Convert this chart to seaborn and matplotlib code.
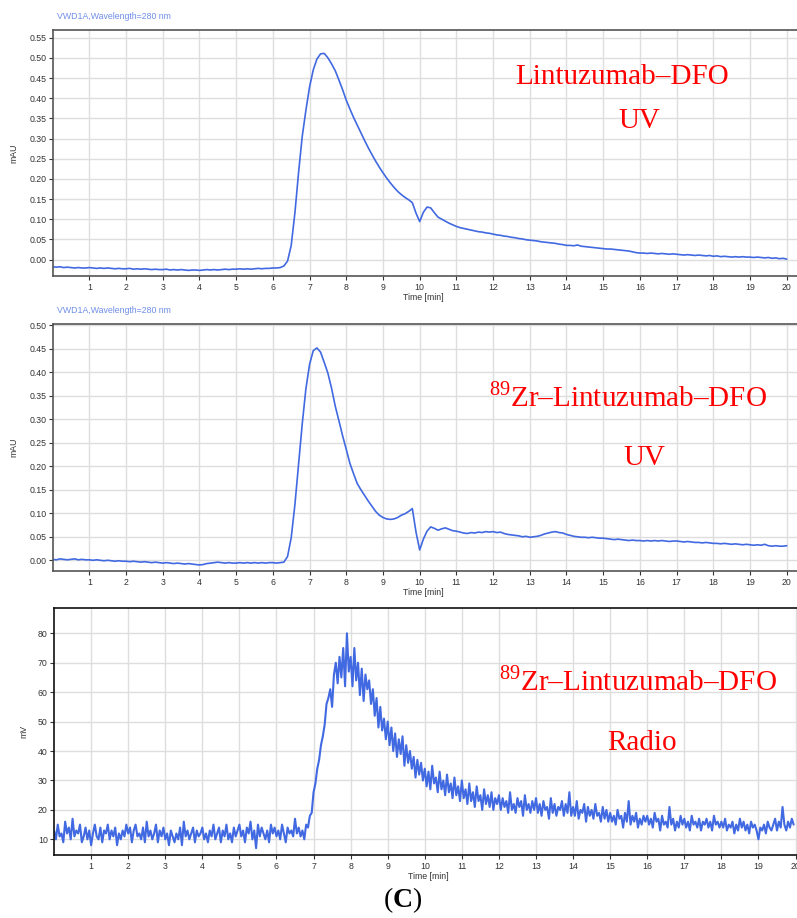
import numpy as np
import pandas as pd
import matplotlib
matplotlib.use('Agg')
import matplotlib.pyplot as plt
import seaborn as sns

# UV trace, Lintuzumab-DFO (mAU), one value every 0.1 min from 0.0 to 20.0
uv1_mau = [
    -0.018, -0.019, -0.018, -0.020, -0.019, -0.020, -0.021, -0.020, -0.021, -0.021,
    -0.020, -0.021, -0.022, -0.021, -0.022, -0.021, -0.022, -0.023, -0.022, -0.023,
    -0.023, -0.022, -0.024, -0.023, -0.024, -0.023, -0.024, -0.025, -0.024, -0.025,
    -0.025, -0.024, -0.026, -0.025, -0.026, -0.025, -0.026, -0.027, -0.026, -0.026,
    -0.027, -0.026, -0.025, -0.026, -0.025, -0.026, -0.025, -0.024, -0.025, -0.024,
    -0.024, -0.023, -0.024, -0.023, -0.024, -0.023, -0.022, -0.023, -0.022, -0.022,
    -0.021, -0.021, -0.020, -0.016, -0.004, 0.035, 0.115, 0.215, 0.305, 0.370,
    0.428, 0.470, 0.497, 0.510, 0.511, 0.500, 0.485, 0.468, 0.445, 0.421,
    0.395, 0.373, 0.352, 0.333, 0.314, 0.295, 0.277, 0.260, 0.244, 0.229,
    0.215, 0.202, 0.190, 0.179, 0.169, 0.161, 0.154, 0.148, 0.141, 0.115,
    0.094, 0.117, 0.130, 0.128, 0.116, 0.105, 0.100, 0.095, 0.090, 0.086,
    0.082, 0.079, 0.077, 0.075, 0.073, 0.071, 0.069, 0.068, 0.066, 0.065,
    0.063, 0.061, 0.060, 0.058, 0.057, 0.055, 0.054, 0.052, 0.051, 0.049,
    0.048, 0.047, 0.046, 0.044, 0.043, 0.042, 0.041, 0.040, 0.038, 0.037,
    0.035, 0.035, 0.034, 0.036, 0.033, 0.032, 0.031, 0.030, 0.029, 0.028,
    0.027, 0.026, 0.026, 0.025, 0.024, 0.023, 0.022, 0.021, 0.019, 0.017,
    0.016, 0.016, 0.015, 0.016, 0.015, 0.014, 0.015, 0.014, 0.013, 0.014,
    0.013, 0.012, 0.011, 0.012, 0.011, 0.010, 0.011, 0.010, 0.009, 0.010,
    0.008, 0.009, 0.007, 0.008, 0.007, 0.006, 0.007, 0.006, 0.007, 0.006,
    0.006, 0.005, 0.006, 0.005, 0.004, 0.005, 0.003, 0.004, 0.002, 0.003,
    0.001,
]

# UV trace, 89Zr-Lintuzumab-DFO (mAU), one value every 0.1 min from 0.0 to 20.0
uv2_mau = [
    0.002, 0.001, 0.003, 0.002, 0.001, 0.002, 0.003, 0.001, 0.002, 0.001,
    0.001, 0.000, 0.001, 0.000, -0.001, 0.000, -0.001, -0.002, -0.001, -0.002,
    -0.002, -0.003, -0.002, -0.003, -0.004, -0.003, -0.004, -0.005, -0.004, -0.005,
    -0.006, -0.005, -0.006, -0.007, -0.006, -0.007, -0.008, -0.007, -0.008, -0.009,
    -0.010, -0.009, -0.007, -0.006, -0.005, -0.004, -0.005, -0.006, -0.005, -0.006,
    -0.006, -0.005, -0.006, -0.005, -0.006, -0.005, -0.006, -0.005, -0.006, -0.005,
    -0.005, -0.006, -0.005, -0.004, 0.008, 0.048, 0.118, 0.205, 0.290, 0.365,
    0.417, 0.446, 0.452, 0.443, 0.421, 0.398, 0.366, 0.328, 0.297, 0.265,
    0.236, 0.206, 0.184, 0.163, 0.150, 0.138, 0.126, 0.115, 0.104, 0.096,
    0.091, 0.088, 0.087, 0.088, 0.091, 0.096, 0.099, 0.104, 0.110, 0.060,
    0.022, 0.045, 0.062, 0.071, 0.068, 0.064, 0.067, 0.069, 0.066, 0.063,
    0.062, 0.060, 0.058, 0.057, 0.059, 0.058, 0.060, 0.059, 0.061, 0.060,
    0.061, 0.059, 0.060, 0.057, 0.055, 0.054, 0.053, 0.052, 0.050, 0.051,
    0.049, 0.050, 0.051, 0.053, 0.056, 0.058, 0.060, 0.061, 0.059, 0.058,
    0.055, 0.053, 0.051, 0.050, 0.049, 0.049, 0.048, 0.049, 0.048, 0.047,
    0.047, 0.046, 0.045, 0.044, 0.045, 0.044, 0.043, 0.042, 0.043, 0.042,
    0.042, 0.041, 0.042, 0.041, 0.042, 0.041, 0.042, 0.041, 0.040, 0.041,
    0.041, 0.040, 0.039, 0.040, 0.039, 0.038, 0.038, 0.037, 0.038, 0.037,
    0.036, 0.036, 0.035, 0.036, 0.035, 0.034, 0.035, 0.034, 0.033, 0.034,
    0.033, 0.032, 0.033, 0.032, 0.034, 0.031, 0.030, 0.031, 0.030, 0.030,
    0.031,
]

# radio trace, 89Zr-Lintuzumab-DFO (mV), one value every 0.05 min from 0.0 to 19.95
radio_mv = [
    13, 10, 15, 11, 12, 9, 16, 12, 14, 10, 17, 11, 13, 12, 15, 9, 11, 14, 10, 13,
    8, 12, 15, 11, 10, 14, 9, 13, 12, 15, 10, 13, 11, 14, 8, 12, 10, 13, 11, 15,
    12, 14, 9, 13, 15, 11, 12, 10, 14, 9, 16, 11, 13, 10, 12, 15, 9, 13, 11, 14,
    10, 12, 8, 13, 11, 9, 12, 10, 14, 8, 16, 11, 13, 10, 12, 14, 9, 13, 11, 12,
    14, 10, 12, 9, 13, 11, 15, 10, 12, 14, 9, 13, 11, 15, 10, 12, 9, 14, 11, 13,
    15, 11, 13, 9, 14, 12, 16, 10, 13, 7, 15, 11, 14, 12, 10, 13, 9, 15, 12, 14,
    11, 13, 10, 15, 12, 9, 14, 12, 13, 11, 17, 12, 14, 11, 13, 10, 15, 14, 18, 19,
    26, 29, 34, 37, 42, 45, 49, 56, 58, 61, 55, 66, 70, 63, 72, 65, 75, 62, 80, 67,
    72, 62, 75, 64, 70, 59, 68, 57, 66, 61, 64, 56, 61, 52, 58, 48, 55, 47, 51, 44,
    50, 42, 48, 40, 46, 38, 44, 39, 45, 35, 42, 36, 40, 34, 38, 31, 37, 32, 36, 30,
    34, 28, 33, 27, 35, 29, 31, 26, 33, 27, 30, 25, 32, 26, 29, 24, 31, 25, 28, 23,
    30, 24, 27, 22, 29, 23, 26, 21, 28, 23, 25, 20, 27, 22, 25, 21, 26, 20, 24, 22,
    25, 20, 24, 21, 23, 19, 26, 20, 22, 19, 24, 21, 23, 18, 25, 20, 22, 19, 23, 20,
    24, 19, 22, 18, 23, 20, 21, 17, 24, 19, 22, 18, 21, 20, 23, 18, 22, 19, 26, 18,
    21, 18, 23, 17, 20, 19, 22, 16, 21, 18, 20, 17, 22, 18, 19, 16, 21, 17, 20, 16,
    19, 16, 18, 15, 20, 17, 18, 14, 19, 16, 23, 15, 18, 16, 19, 14, 17, 15, 18, 16,
    18, 15, 17, 14, 19, 16, 17, 13, 18, 15, 16, 14, 21, 15, 17, 13, 16, 14, 18, 15,
    17, 14, 16, 13, 18, 15, 16, 14, 17, 13, 16, 15, 17, 14, 16, 13, 18, 15, 16, 14,
    16, 14, 17, 13, 15, 14, 16, 12, 15, 13, 17, 14, 16, 13, 15, 12, 16, 14, 15, 13,
    10, 14, 13, 15, 12, 16, 14, 13, 15, 17, 13, 16, 14, 21, 15, 13, 16, 14, 17, 15,
]

uv_time = np.arange(len(uv1_mau)) * 0.1
radio_time = np.arange(len(radio_mv)) * 0.05

uv1 = pd.DataFrame({'time': uv_time, 'signal': uv1_mau})
uv2 = pd.DataFrame({'time': uv_time, 'signal': uv2_mau})
radio = pd.DataFrame({'time': radio_time, 'signal': radio_mv})

sns.set_style('whitegrid', {'grid.color': '#dedede'})
plt.rcParams['font.family'] = ['Liberation Sans', 'DejaVu Sans']
plt.rcParams['mathtext.fontset'] = 'custom'
plt.rcParams['mathtext.rm'] = 'Liberation Serif'
plt.rcParams['mathtext.bf'] = 'Liberation Serif:bold'

line_col = '#4169e1'
red = '#ff0000'
tick_col = '#333333'

fig = plt.figure(figsize=(7.97, 9.18), dpi=100)
ax1 = fig.add_axes([0.0665, 0.6993, 0.9335, 0.2680])
ax2 = fig.add_axes([0.0665, 0.3780, 0.9335, 0.2691])
ax3 = fig.add_axes([0.0678, 0.0686, 0.9322, 0.2691])

sns.lineplot(data=uv1, x='time', y='signal', ax=ax1, color=line_col, lw=1.2)
sns.lineplot(data=uv2, x='time', y='signal', ax=ax2, color=line_col, lw=1.2)
sns.lineplot(data=radio, x='time', y='signal', ax=ax3, color=line_col, lw=1.5)

ax1.set_xlim(0.01, 20.28)
ax1.set_ylim(-0.041, 0.569)
ax1.set_yticks(np.arange(0, 0.56, 0.05))
ax1.set_yticklabels(['%.2f' % v for v in np.arange(0, 0.56, 0.05)])

ax2.set_xlim(0.01, 20.28)
ax2.set_ylim(-0.0228, 0.503)
ax2.set_yticks(np.arange(0, 0.51, 0.05))
ax2.set_yticklabels(['%.2f' % v for v in np.arange(0, 0.51, 0.05)])

ax3.set_xlim(0.0, 20.04)
ax3.set_ylim(4.67, 88.6)
ax3.set_yticks(range(10, 81, 10))

for ax, spine_col in [(ax1, '#555555'), (ax2, '#555555'), (ax3, '#111111')]:
    ax.set_xticks(range(1, 21))
    ax.set_xlabel('')
    ax.set_ylabel('')
    ax.grid(True, color='#dedede', lw=1.0)
    ax.tick_params(axis='both', labelsize=6.3, colors=tick_col, length=3,
                   width=0.8, direction='out', pad=1.5)
    ax.tick_params(axis='x', pad=2.0)
    ax.tick_params(left=True, bottom=True)
    for side in ['left', 'top', 'bottom']:
        ax.spines[side].set_visible(True)
        ax.spines[side].set_color(spine_col)
        ax.spines[side].set_linewidth(1.2)
    ax.spines['right'].set_visible(False)
    ax.text(9.55, -0.088, 'Time [min]', transform=ax.get_xaxis_transform(),
            fontsize=6.3, color=tick_col, va='center', ha='left')

ax1.set_ylabel('mAU', fontsize=6.3, color=tick_col)
ax1.yaxis.set_label_coords(-0.047, 0.5)
ax2.set_ylabel('mAU', fontsize=6.3, color=tick_col)
ax2.yaxis.set_label_coords(-0.047, 0.5)
ax3.set_ylabel('mV', fontsize=6.3, color=tick_col)
ax3.yaxis.set_label_coords(-0.035, 0.5)

for ax in [ax1, ax2]:
    ax.text(0.005, 1.053, 'VWD1A,Wavelength=280 nm', transform=ax.transAxes,
            fontsize=6.3, color='#6f8ee8', va='center', ha='left')

serif = ['Liberation Serif', 'DejaVu Serif']
fig.text(0.780, 0.9085, 'Lintuzumab\u2013DFO', family=serif, fontsize=21,
         color=red, ha='center', va='baseline')
fig.text(0.8018, 0.8606, 'UV', family=serif, fontsize=21,
         color=red, ha='center', va='baseline')
fig.text(0.7873, 0.5577, '$^{89}$Zr\u2013Lintuzumab\u2013DFO', family=serif,
         fontsize=21, color=red, ha='center', va='baseline')
fig.text(0.808, 0.4935, 'UV', family=serif, fontsize=21,
         color=red, ha='center', va='baseline')
fig.text(0.801, 0.2476, '$^{89}$Zr\u2013Lintuzumab\u2013DFO', family=serif,
         fontsize=21, color=red, ha='center', va='baseline')
fig.text(0.8055, 0.183, 'Radio', family=serif, fontsize=21,
         color=red, ha='center', va='baseline')

fig.text(0.5056, 0.012, '($\\mathbf{C}$)', family=serif, fontsize=20,
         color='black', ha='center', va='baseline')

fig.savefig('out.png', dpi=100)
